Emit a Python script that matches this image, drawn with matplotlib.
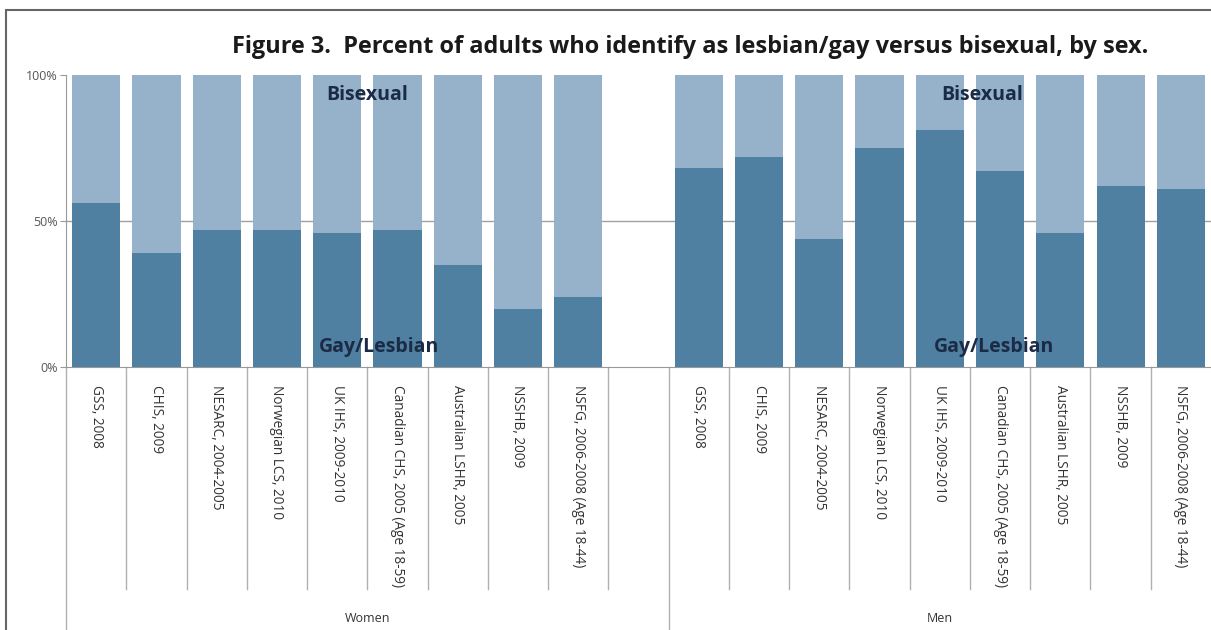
import matplotlib.pyplot as plt
from matplotlib.patches import Rectangle

# Data (percent gay/lesbian; bisexual is the remainder)
surveys = ["GSS, 2008", "CHIS, 2009", "NESARC, 2004-2005", "Norwegian LCS, 2010",
           "UK IHS, 2009-2010", "Canadian CHS, 2005 (Age 18-59)",
           "Australian LSHR, 2005", "NSSHB, 2009", "NSFG, 2006-2008 (Age 18-44)"]
women_gay = [56, 39, 47, 47, 46, 47, 35, 20, 24]
men_gay = [68, 72, 44, 75, 81, 67, 46, 62, 61]
groups = ["Women", "Men"]

dark = "#4f80a1"
light = "#95b2ca"
navy = "#1b2b45"

plt.rcParams["font.family"] = ["Open Sans", "DejaVu Sans"]

fig = plt.figure(figsize=(12.11, 6.3), dpi=100)
ax = fig.add_axes([66 / 1211, 1 - 367 / 630, 1 - 66 / 1211, 292 / 630])

# x positions: women 0..8, blank slot 9, men 10..18
x_w = list(range(len(women_gay)))
x_m = [i + len(women_gay) + 1 for i in range(len(men_gay))]
gay = women_gay + men_gay
xs = x_w + x_m
bi = [100 - g for g in gay]

ax.bar(xs, gay, width=0.8, color=dark, zorder=2)
ax.bar(xs, bi, width=0.8, bottom=gay, color=light, zorder=2)

n_slots = len(x_w) + 1 + len(x_m)
ax.set_xlim(-0.5, n_slots - 0.5)
ax.set_ylim(0, 100)
ax.set_yticks([0, 50, 100])
ax.set_yticklabels(["0%", "50%", "100%"], fontsize=9, color="#555555")
ax.tick_params(axis="y", length=4, color="#999999", pad=2)
ax.set_xticks([])
ax.axhline(50, color="#a0a0a0", lw=1, zorder=1)
for s in ["top", "right"]:
    ax.spines[s].set_visible(False)
ax.spines["left"].set_color("#999999")
ax.spines["bottom"].set_color("#999999")

# annotations
for cx in [4.5, 14.7]:
    ax.text(cx, 93, "Bisexual", ha="center", va="center", fontsize=14,
            fontweight="bold", color=navy, zorder=3)
    ax.text(cx + 0.2, 7, "Gay/Lesbian", ha="center", va="center", fontsize=14,
            fontweight="bold", color=navy, zorder=3)

# multi-level category axis below the plot
tr = ax.get_xaxis_transform()
sep_short = -0.76
sep_long = -0.92
for k in range(1, n_slots):
    if k == len(x_w) + 1:
        ax.plot([k - 0.5, k - 0.5], [0, sep_long], transform=tr, color="#b0b0b0",
                lw=1, clip_on=False)
    else:
        ax.plot([k - 0.5, k - 0.5], [0, sep_short], transform=tr, color="#b0b0b0",
                lw=1, clip_on=False)
ax.plot([-0.5, -0.5], [0, sep_long], transform=tr, color="#b0b0b0", lw=1, clip_on=False)

for x, lab in zip(xs, surveys + surveys):
    ax.text(x, -0.06, lab, transform=tr, rotation=270, ha="center", va="top",
            fontsize=9.8, color="#333333")

ax.text(len(x_w) / 2, -0.86, groups[0], transform=tr, ha="center", va="center",
        fontsize=9, color="#333333")
ax.text((x_m[0] + x_m[-1]) / 2, -0.86, groups[1], transform=tr, ha="center",
        va="center", fontsize=9, color="#333333")

fig.text(232 / 1211, 1 - 47 / 630,
         "Figure 3.  Percent of adults who identify as lesbian/gay versus bisexual, by sex.",
         ha="left", va="center", fontsize=16.9, fontweight="bold", color="#1a1a1a")

# outer frame
fig.patches.append(Rectangle((6 / 1211, -0.05), 1.1, 1 - 10 / 630 + 0.05,
                             transform=fig.transFigure, fill=False,
                             edgecolor="#666666", lw=1.5))

fig.savefig("out.png", dpi=100)
